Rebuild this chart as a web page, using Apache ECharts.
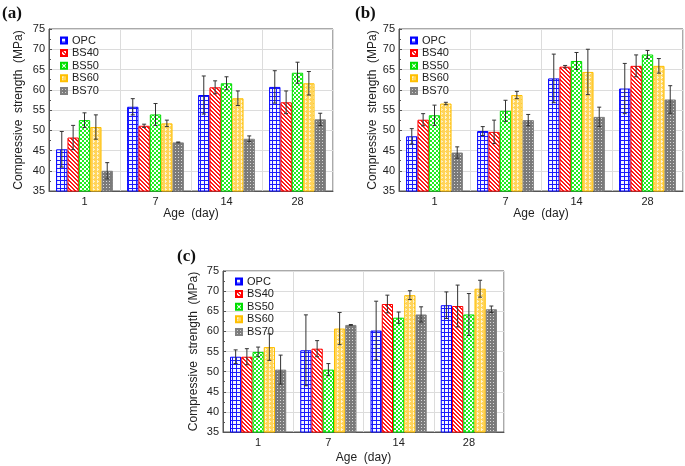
<!DOCTYPE html>
<html><head><meta charset="utf-8">
<script src="https://cdn.jsdelivr.net/npm/echarts@6/dist/echarts.min.js"></script>
<style>html,body{margin:0;padding:0;background:#fff}#c{width:685px;height:466px}</style>
</head><body><div id="c"></div>
<script>
// ---- data ----
var categories = ['1', '7', '14', '28'];
var seriesNames = ['OPC', 'BS40', 'BS50', 'BS60', 'BS70'];
var panelLabels = ['(a)', '(b)', '(c)'];
var yTicks = [35, 40, 45, 50, 55, 60, 65, 70, 75];

// panel (a)
var aOPC  = [45.3, 55.8, 58.7, 60.7];
var aBS40 = [48.2, 51.1, 60.6, 56.9];
var aBS50 = [52.5, 53.9, 61.6, 64.2];
var aBS60 = [50.8, 51.7, 57.9, 61.6];
var aBS70 = [40.0, 47.0, 47.9, 52.7];
var aErrOPC  = [4.4, 2.0, 4.7, 4.0];
var aErrBS40 = [3.0, 0.4, 1.6, 2.8];
var aErrBS50 = [1.8, 2.7, 1.6, 2.6];
var aErrBS60 = [3.0, 0.8, 1.8, 2.9];
var aErrBS70 = [2.0, 0.1, 0.7, 1.5];

// panel (b)
var bOPC  = [48.5, 49.8, 62.8, 60.3];
var bBS40 = [52.6, 49.6, 65.7, 65.9];
var bBS50 = [53.7, 54.8, 67.1, 68.7];
var bBS60 = [56.6, 58.7, 64.4, 65.9];
var bBS70 = [44.5, 52.5, 53.3, 57.6];
var bErrOPC  = [1.9, 1.1, 6.0, 6.2];
var bErrBS40 = [1.5, 2.9, 0.3, 2.7];
var bErrBS50 = [2.5, 2.6, 2.1, 1.0];
var bErrBS60 = [0.3, 0.9, 5.6, 1.8];
var bErrBS70 = [1.4, 1.4, 2.4, 3.4];

// panel (c)
var cOPC  = [53.7, 55.3, 60.2, 66.5];
var cBS40 = [53.7, 55.7, 66.8, 66.3];
var cBS50 = [54.9, 50.5, 63.4, 64.2];
var cBS60 = [56.1, 60.7, 69.0, 70.6];
var cBS70 = [50.5, 61.6, 64.2, 65.5];
var cErrOPC  = [1.7, 8.8, 7.3, 3.3];
var cErrBS40 = [2.0, 2.0, 2.2, 5.2];
var cErrBS50 = [1.2, 1.5, 1.4, 5.2];
var cErrBS60 = [3.3, 4.0, 1.1, 2.1];
var cErrBS70 = [3.6, 0.1, 1.9, 0.8];

var panelValues = [
  [aOPC, aBS40, aBS50, aBS60, aBS70],
  [bOPC, bBS40, bBS50, bBS60, bBS70],
  [cOPC, cBS40, cBS50, cBS60, cBS70]
];
var panelErrors = [
  [aErrOPC, aErrBS40, aErrBS50, aErrBS60, aErrBS70],
  [bErrOPC, bErrBS40, bErrBS50, bErrBS60, bErrBS70],
  [cErrOPC, cErrBS40, cErrBS50, cErrBS60, cErrBS70]
];

// ---- styles ----
function pattern(size, bg, fg, cells) {
  var cv = document.createElement('canvas');
  cv.width = size; cv.height = size;
  var ctx = cv.getContext('2d');
  ctx.fillStyle = bg; ctx.fillRect(0, 0, size, size);
  ctx.fillStyle = fg;
  cells.forEach(function (c) { ctx.fillRect(c[0], c[1], c[2] || 1, c[3] || 1); });
  return { image: cv, repeat: 'repeat' };
}
var fills = [
  pattern(4, '#f4f6ff', '#1a1aff', [[0, 0, 4, 1], [0, 0, 1, 4]]),
  pattern(4, '#ffffff', '#ff1a1a', [[0, 0, 2, 1], [1, 1, 2, 1], [2, 2, 2, 1], [3, 3, 1, 1], [0, 3, 1, 1]]),
  pattern(4, '#22ee22', '#ffffff', [[0, 0, 2, 2], [2, 2, 2, 2]]),
  pattern(4, '#ffd45a', '#fff3cc', [[1, 1, 2, 1], [1, 0, 1, 3]]),
  pattern(3, '#7a7a7a', '#d8d8d8', [[1, 1, 1, 1]])
];
var borders = ['#0000ff', '#ff0000', '#00dd00', '#ffbf00', '#808080'];

var grids = [
  { left: 49, top: 29, width: 284, height: 162 },
  { left: 399, top: 29, width: 284, height: 162 },
  { left: 223, top: 271, width: 281, height: 161 }
];
var yNameGaps = [24, 19, 23];
var xNameGaps = [17, 17, 20];
var labelPos = [[2, 5], [355, 5], [177, 248]];
var legendPos = [[60, 35], [410, 35], [235, 276]];

var FONT = 'Liberation Sans, Arial, sans-serif';
var option = {
  animation: false,
  backgroundColor: '#fff',
  title: panelLabels.map(function (t, i) {
    return { text: t, left: labelPos[i][0], top: labelPos[i][1], padding: 0,
      textStyle: { fontFamily: 'Liberation Serif, Times New Roman, serif', fontWeight: 'bold', fontSize: 17, color: '#111' } };
  }),
  grid: grids.map(function (g) {
    return { left: g.left, top: g.top, width: g.width, height: g.height, show: true,
      borderColor: '#555', borderWidth: 1, backgroundColor: 'transparent' };
  }),
  legend: legendPos.map(function (p) {
    return { data: seriesNames, orient: 'vertical', left: p[0], top: p[1], padding: 0,
      itemWidth: 6, itemHeight: 6, itemGap: 1.6, itemTextGap: 2, icon: 'rect',
      textStyle: { fontFamily: FONT, fontSize: 11, color: '#222', lineHeight: 11 } };
  }),
  xAxis: grids.map(function (g, i) {
    return { type: 'category', gridIndex: i, data: categories,
      name: 'Age  (day)', nameLocation: 'middle', nameGap: xNameGaps[i],
      nameTextStyle: { fontFamily: FONT, fontSize: 12, color: '#222' },
      axisLine: { lineStyle: { color: '#555' } },
      axisTick: { inside: true, length: 3, lineStyle: { color: '#555' } },
      axisLabel: { fontFamily: FONT, fontSize: 11, color: '#222', margin: 5 },
      splitLine: { show: true, lineStyle: { color: '#dcdcdc', width: 1 } } };
  }),
  yAxis: grids.map(function (g, i) {
    return { type: 'value', gridIndex: i, min: yTicks[0], max: yTicks[yTicks.length - 1], interval: 5,
      name: 'Compressive  strength  (MPa)', nameLocation: 'middle', nameGap: yNameGaps[i],
      nameTextStyle: { fontFamily: FONT, fontSize: 12, color: '#222' },
      axisLine: { show: true, lineStyle: { color: '#555' } },
      axisTick: { show: true, inside: true, length: 3, lineStyle: { color: '#555' } },
      minorTick: { show: true, splitNumber: 2, length: 2, lineStyle: { color: '#555' } },
      axisLabel: { fontFamily: FONT, fontSize: 11, color: '#222', margin: 4 },
      splitLine: { show: true, lineStyle: { color: '#dcdcdc', width: 1 } } };
  }),
  series: []
};

panelValues.forEach(function (vals, p) {
  vals.forEach(function (arr, k) {
    option.series.push({
      type: 'bar', name: seriesNames[k], xAxisIndex: p, yAxisIndex: p,
      data: arr, barGap: '0%', barCategoryGap: '20%',
      itemStyle: { color: fills[k], borderColor: borders[k], borderWidth: 1 }
    });
  });
  vals.forEach(function (arr, k) {
    var errs = panelErrors[p][k];
    option.series.push({
      type: 'custom', name: 'err' + p + k, xAxisIndex: p, yAxisIndex: p, z: 10,
      data: arr.map(function (v, j) { return [j, v, errs[j]]; }),
      encode: { x: 0, y: 1 },
      renderItem: function (params, api) {
        var j = api.value(0), v = api.value(1), e = api.value(2);
        var band = api.size([1, 0])[0];
        var bw = band * 0.8 / 5;
        var c = api.coord([j, v]);
        var x = c[0] + (k - 2) * bw;
        var t = api.coord([j, v + e])[1];
        var b = api.coord([j, v - e])[1];
        var st = { stroke: '#333', lineWidth: 1 };
        var hw = 2;
        return { type: 'group', children: [
          { type: 'line', shape: { x1: x, y1: t, x2: x, y2: b }, style: st },
          { type: 'line', shape: { x1: x - hw, y1: t, x2: x + hw, y2: t }, style: st },
          { type: 'line', shape: { x1: x - hw, y1: b, x2: x + hw, y2: b }, style: st }
        ] };
      }
    });
  });
});

var chart = echarts.init(document.getElementById('c'), null, { renderer: 'canvas' });
chart.setOption(option);
</script></body></html>
